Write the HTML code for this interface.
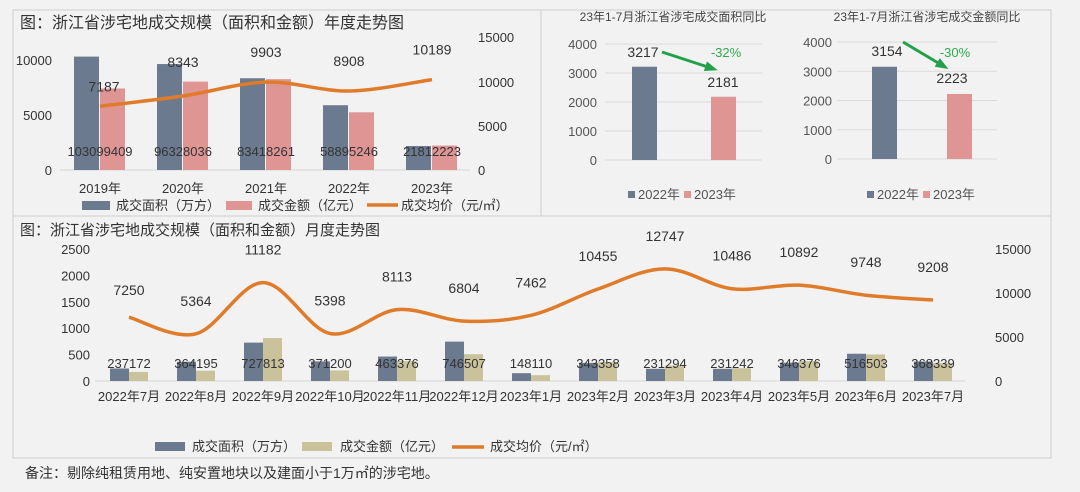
<!DOCTYPE html>
<html><head><meta charset="utf-8"><style>
body{margin:0;background:#f2f2f2;width:1080px;height:492px;overflow:hidden;font-family:"Liberation Sans","Noto Sans CJK SC",sans-serif;}
svg{position:absolute;left:0;top:0}
text{font-family:"Liberation Sans","Noto Sans CJK SC",sans-serif;fill:#333}
</style></head><body>
<svg id="s" width="1080" height="492" xmlns="http://www.w3.org/2000/svg">
<rect x="13" y="10" width="528" height="206" fill="#f2f2f2" stroke="#cfcfcf"/>
<rect x="541" y="10" width="510" height="206" fill="#f2f2f2" stroke="#cfcfcf"/>
<rect x="13" y="216" width="1038" height="242" fill="#f2f2f2" stroke="#cfcfcf"/>
<text x="20" y="28" font-size="16" style="fill:#333">图：浙江省涉宅地成交规模（面积和金额）年度走势图</text>
<text x="20" y="235" font-size="15" style="fill:#333">图：浙江省涉宅地成交规模（面积和金额）月度走势图</text>
<text x="25" y="478" font-size="14">备注：剔除纯租赁用地、纯安置地块以及建面小于1万㎡的涉宅地。</text>
<g id="g"></g>
</svg>
<script>
var g=document.getElementById('g'),h='';
function T(x,y,s,t,a,c){h+='<text x="'+x+'" y="'+y+'" font-size="'+s+'" text-anchor="'+(a||'start')+'"'+(c?' style="fill:'+c+'"':'')+'>'+t+'</text>';}
function R(x,y,w,hh,c){h+='<rect x="'+x+'" y="'+y+'" width="'+w+'" height="'+hh+'" fill="'+c+'"/>';}
function smooth(p){var d='M'+p[0][0]+','+p[0][1];for(var i=0;i<p.length-1;i++){var p0=p[i-1]||p[i],p1=p[i],p2=p[i+1],p3=p[i+2]||p2;var c1x=p1[0]+(p2[0]-p0[0])/6,c1y=p1[1]+(p2[1]-p0[1])/6,c2x=p2[0]-(p3[0]-p1[0])/6,c2y=p2[1]-(p3[1]-p1[1])/6;d+=' C'+c1x+','+c1y+' '+c2x+','+c2y+' '+p2[0]+','+p2[1];}return d;}
var D='#6b7a8f',P='#de9594',K='#c9c29a',O='#e07b2a';
var yrs=['2019年','2020年','2021年','2022年','2023年'],A=[10309,9632,8341,5889,2181],M=[7409,8036,8261,5246,2223],pr=[7187,8343,9903,8908,10189],lab=[['10309','9409'],['9632','8036'],['8341','8261'],['5889','5246'],['2181','2223']];
h+='<line x1="60" y1="170" x2="470" y2="170" stroke="#d6d6d6"/>';
[[0,170],[5000,115],[10000,60]].forEach(function(t){T(52,t[1]+5,13,t[0],'end');});
[[0,170],[5000,126],[10000,82],[15000,37]].forEach(function(t){T(478,t[1]+5,13,t[0]);});
var pts=[];
for(var i=0;i<5;i++){var cx=100+i*83;var ha=A[i]*0.011,hm=M[i]*0.011;R(cx-26,170-ha,25,ha,D);R(cx,170-hm,25,hm,P);
T(cx,156,13,lab[i][0]+lab[i][1],'middle');T(cx,193,13,yrs[i],'middle');var py=170-pr[i]*0.00887;pts.push([cx,py]);}
h+='<path d="'+smooth(pts)+'" fill="none" stroke="'+O+'" stroke-width="3.5"/>';
var ly=[-23,-25,-25,-25,-25];
for(var i=0;i<5;i++)T(pts[i][0]+(i==0?4:0),pts[i][1]+ly[i]+(i==0?8:0)+(i==1?-4:0),14,pr[i],'middle');
R(82,201,28,9,D);T(116,210,13,'成交面积（万方）');R(226,201,26,9,P);T(258,210,13,'成交金额（亿元）');
h+='<line x1="367" y1="205" x2="398" y2="205" stroke="'+O+'" stroke-width="3.5"/>';T(401,210,13,'成交均价（元/㎡）');
function mini(gx0,gx1,y0,y4,lx,bd,bp,v1,v2,l1,l2,title,tcx,ar,pct,pctx,legx){
 var s=(y0-y4)/4000;for(var k=0;k<=4;k++){var yy=y0-k*1000*s;h+='<line x1="'+gx0+'" y1="'+yy+'" x2="'+gx1+'" y2="'+yy+'" stroke="#dadada"/>';T(lx,yy+5,13,k*1000,'end','#555');}
 R(bd,y0-v1*s,25,v1*s,D);R(bp,y0-v2*s,25,v2*s,P);
 T(l1[0],l1[1],14,v1,'middle');
 T(l2[0],l2[1],14,v2,'middle');
 T(tcx,21,12,title,'middle','#444');
 h+='<line x1="'+ar[0]+'" y1="'+ar[1]+'" x2="'+ar[2]+'" y2="'+ar[3]+'" stroke="#23a04a" stroke-width="3"/>';
 var dx=ar[2]-ar[0],dy=ar[3]-ar[1],L=Math.sqrt(dx*dx+dy*dy),ux=dx/L,uy=dy/L;
 h+='<polygon points="'+(ar[2]+ux*4)+','+(ar[3]+uy*4)+' '+(ar[2]-ux*9-uy*5)+','+(ar[3]-uy*9+ux*5)+' '+(ar[2]-ux*9+uy*5)+','+(ar[3]-uy*9-ux*5)+'" fill="#23a04a"/>';
 T(pctx,57,13,pct,'middle','#2daa4a');
 R(legx,191,7,7,D);T(legx+10,199,13,'2022年','start','#555');R(legx+56,191,7,7,P);T(legx+66,199,13,'2023年','start','#555');
}
mini(605,762,160,44,597,632,711,3217,2181,[643,57],[723,87],'23年1-7月浙江省涉宅成交面积同比',673,[662,52,714,69],'-32%',726,628);
mini(837,997,159,42,832,872,947,3154,2223,[887,56],[952,83],'23年1-7月浙江省涉宅成交金额同比',927,[903,42,945,67],'-30%',955,867);
var mo=['2022年7月','2022年8月','2022年9月','2022年10月','2022年11月','2022年12月','2023年1月','2023年2月','2023年3月','2023年4月','2023年5月','2023年6月','2023年7月'];
var a=[237,364,727,371,463,746,148,343,231,231,346,516,368],m=[172,195,813,200,376,507,110,358,294,242,376,503,339],p=[7250,5364,11182,5398,8113,6804,7462,10455,12747,10486,10892,9748,9208];
var b0=381,sc=132/2500,rs=132/15000;
h+='<line x1="95" y1="381" x2="965" y2="381" stroke="#d6d6d6"/>';
for(var k=0;k<=5;k++)T(90,b0-k*500*sc+5,13,k*500,'end');
for(var k=0;k<=3;k++)T(995,b0-k*5000*rs+5,13,k*5000,'start');
var bp=[];
for(var i=0;i<13;i++){var cx=129+i*67;R(cx-19,b0-a[i]*sc,19,a[i]*sc,D);R(cx,b0-m[i]*sc,19,m[i]*sc,K);
T(cx,368,13,''+a[i]+m[i],'middle');T(cx,401,13,mo[i],'middle');bp.push([cx,b0-p[i]*rs]);}
h+='<path d="'+smooth(bp)+'" fill="none" stroke="'+O+'" stroke-width="3.5"/>';
for(var i=0;i<13;i++){var yy=bp[i][1]-28;if(i==0)yy=bp[i][1]-22;T(bp[i][0],yy,14,p[i],'middle');}
R(155,442,30,9,D);T(192,451,13,'成交面积（万方）');R(302,442,30,9,K);T(340,451,13,'成交金额（亿元）');
h+='<line x1="452" y1="447" x2="484" y2="447" stroke="'+O+'" stroke-width="3.5"/>';T(490,451,13,'成交均价（元/㎡）');
g.innerHTML=h;
</script>
</body></html>
